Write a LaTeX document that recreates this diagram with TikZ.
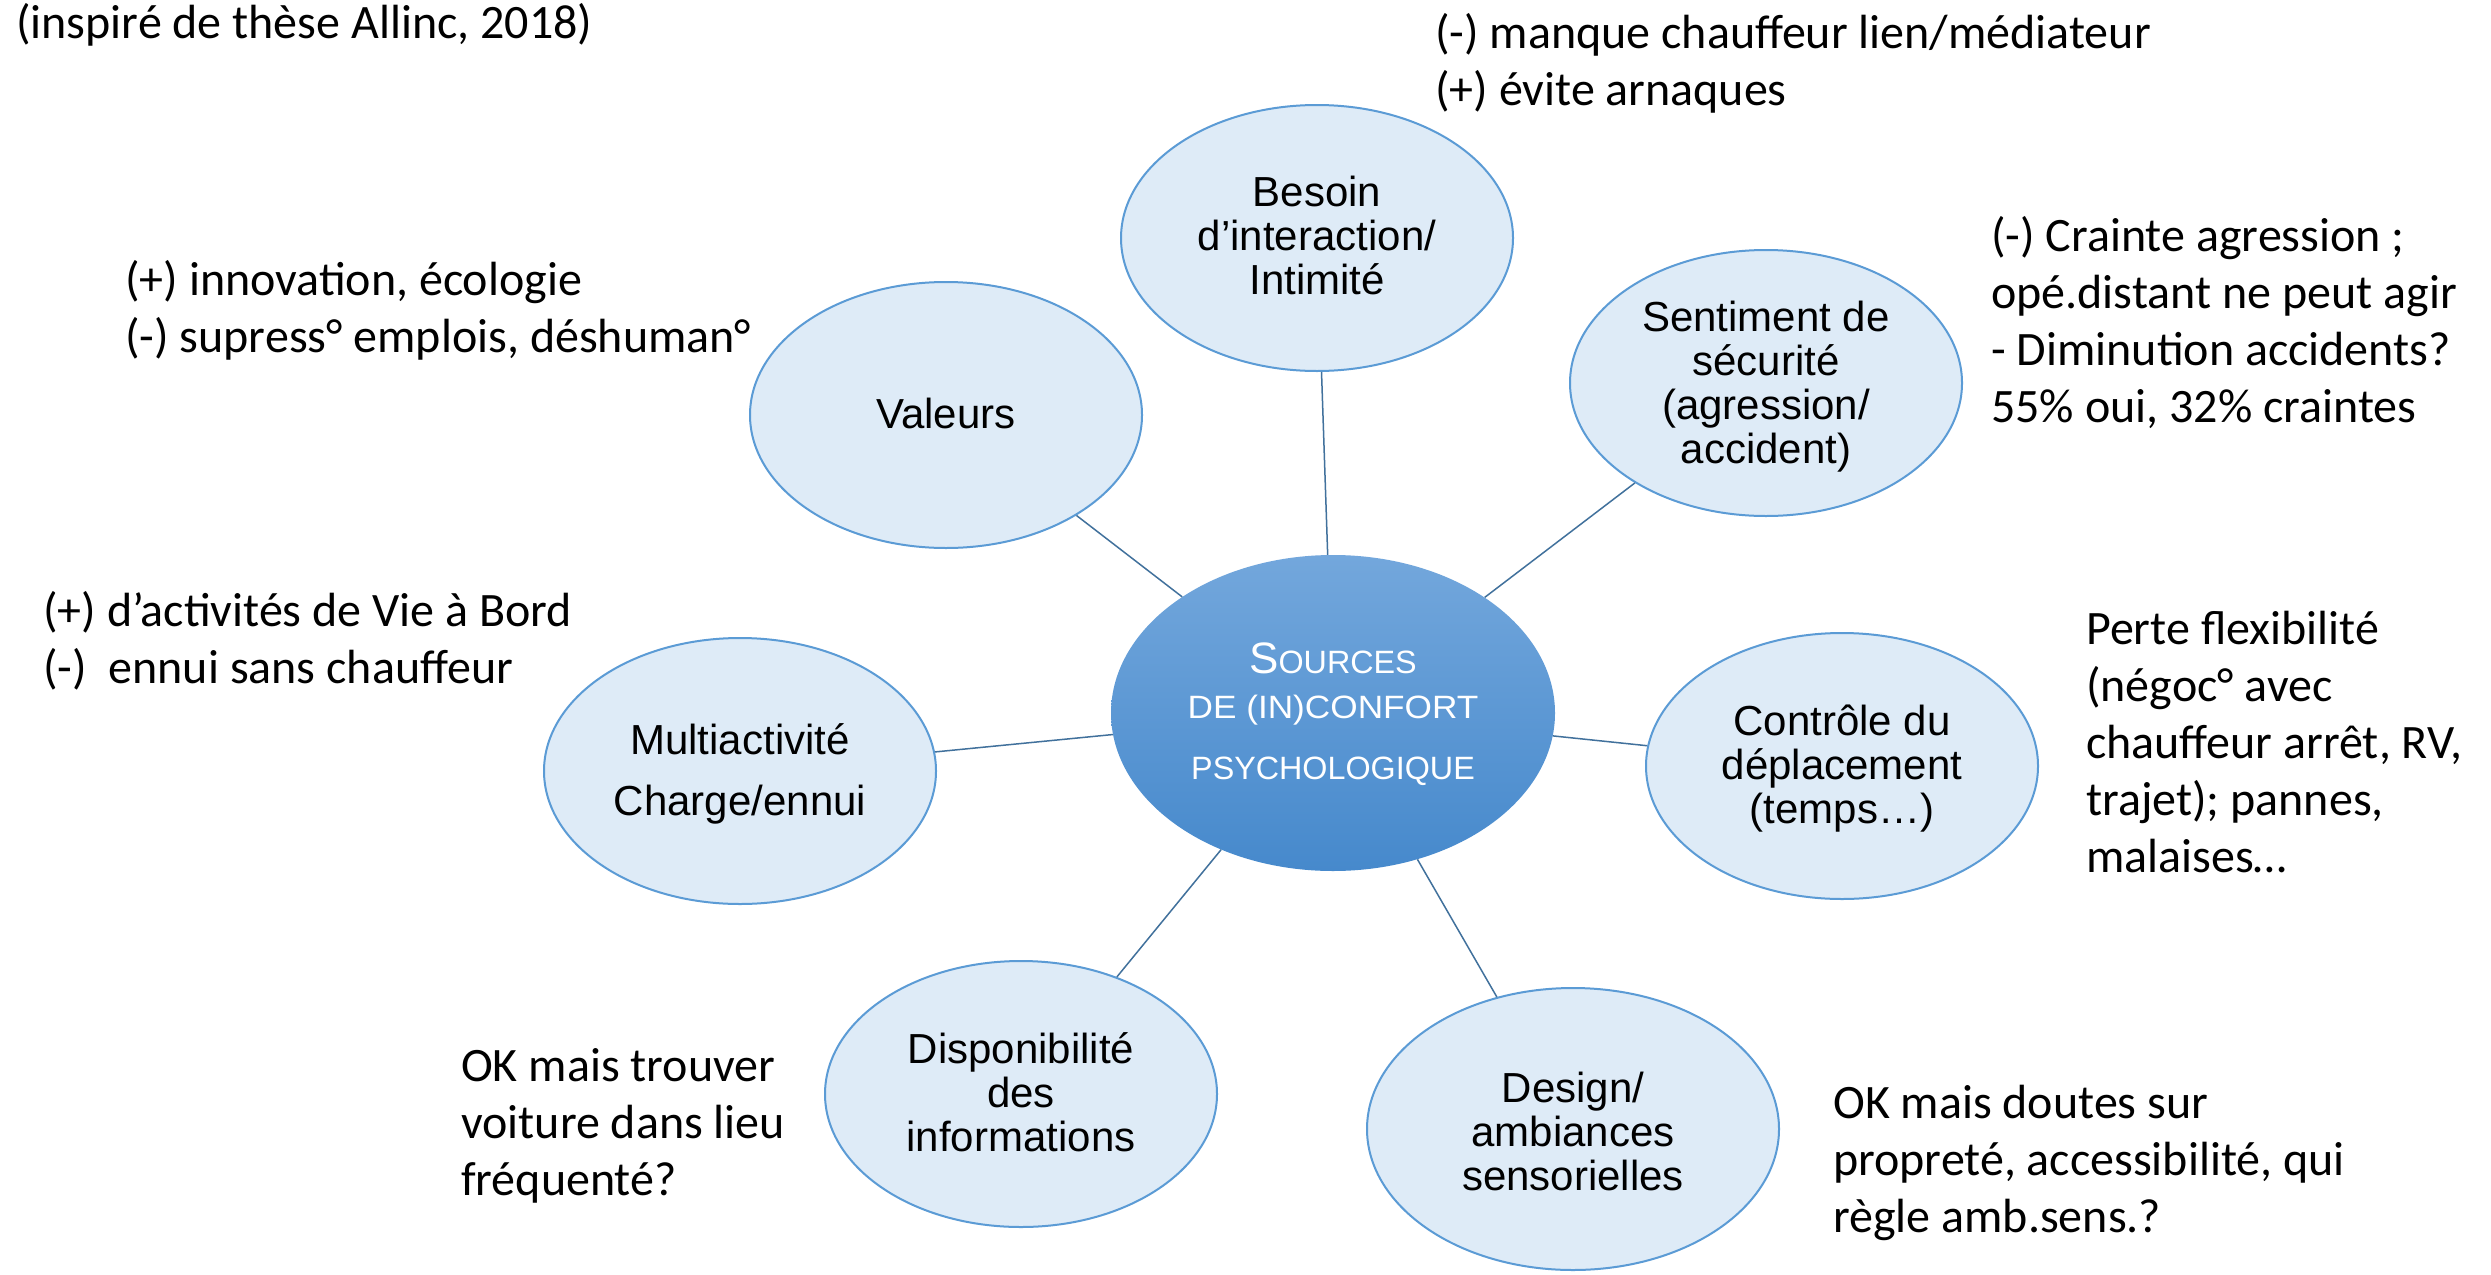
\documentclass[tikz,border=0pt]{standalone}
\usepackage{fontspec}
\usepackage{graphicx}
\setmainfont{Carlito}
\newfontfamily\arialf{Liberation Sans}
\usetikzlibrary{shapes.geometric}
\definecolor{ellfill}{RGB}{222,235,247}
\definecolor{elldraw}{RGB}{91,155,213}
\definecolor{linkc}{RGB}{65,113,156}
\definecolor{ctop}{RGB}{115,167,220}
\definecolor{cbot}{RGB}{70,137,204}
\newcommand\clines[1]{\vtop{\halign{\hfil##\hfil\cr#1\crcr}}}
\newcommand\llines[1]{\vtop{\halign{##\hfil\cr#1\crcr}}}
\begin{document}
\begin{tikzpicture}[x=1pt,y=-1pt,
  sat/.style={ellipse, draw=elldraw, line width=2pt, fill=ellfill, inner sep=0pt,
    minimum width=392pt, minimum height=266pt},
  hub/.style={ellipse, inner sep=0pt, minimum width=444pt, minimum height=316pt,
    top color=ctop, bottom color=cbot, draw=none},
  lab/.style={anchor=base, inner sep=0pt, font=\arialf\fontsize{42}{44}\selectfont},
  hublab/.style={anchor=base, inner sep=0pt, text=white, font=\arialf\fontsize{32.3}{45}\selectfont},
  link/.style={draw=linkc, line width=1.5pt},
  anno/.style={anchor=base west, inner sep=0pt, font=\fontsize{48}{57}\selectfont}]
\fill[white] (0,0) rectangle (2491,1274);
\useasboundingbox (0,0) rectangle (2491,1274);

% ellipses
\node[hub] (hub) at (1333,713) {};
\node[sat] (val) at (946,415) {};
\node[sat] (bes) at (1317,238) {};
\node[sat] (sec) at (1766,383) {};
\node[sat] (mul) at (740,771) {};
\node[sat] (ctl) at (1842,766) {};
\node[sat] (dis) at (1021,1094) {};
\node[sat, minimum width=412pt, minimum height=282pt] (des) at (1573,1129) {};

% connectors
\foreach \s in {val,bes,sec,mul,ctl,dis,des} \draw[link] (hub) -- (\s);

% texts in ellipses
\node[hublab] (hub-t) at (1333,673) {\clines{{\fontsize{44}{45}\selectfont S}OURCES\cr
  \scalebox{1.09}[1]{DE (IN)CONFORT}\cr\noalign{\vskip16pt}PSYCHOLOGIQUE}};
\node[lab] (val-t) at (946,428) {Valeurs};
\node[lab] (bes-t) at (1317,206) {\clines{Besoin\cr d’interaction/\cr Intimité}};
\node[lab] (sec-t) at (1766,331) {\clines{Sentiment de\cr sécurité\cr (agression/\cr accident)}};
\node[lab] (mul-t) at (740,754) {\clines{Multiactivité\cr\noalign{\vskip17pt}Charge/ennui}};
\node[lab] (ctl-t) at (1842,735) {\clines{Contrôle du\cr déplacement\cr (temps…)}};
\node[lab] (dis-t) at (1021,1063) {\clines{Disponibilité\cr des\cr informations}};
\node[lab] (des-t) at (1573,1102) {\clines{Design/\cr ambiances\cr sensorielles}};

% annotations
\node[anno] (n0) at (16,38) {(inspiré de thèse Allinc, 2018)};
\node[anno] (n1) at (1435,48) {\llines{(-) manque chauffeur lien/médiateur\cr (+) évite arnaques}};
\node[anno] (n2) at (1991,251) {\llines{(-) Crainte agression ;\cr opé.distant ne peut agir\cr - Diminution accidents?\cr 55\% oui, 32\% craintes}};
\node[anno] (n3) at (125,295) {\llines{(+) innovation, écologie\cr (-) supress° emplois, déshuman°}};
\node[anno] (n4) at (43,626) {\llines{(+) d’activités de Vie à Bord\cr (-)\ \ ennui sans chauffeur}};
\node[anno] (n5) at (2086,644) {\llines{Perte flexibilité\cr (négoc° avec\cr chauffeur arrêt, RV,\cr trajet); pannes,\cr malaises…}};
\node[anno] (n6) at (461,1081) {\llines{OK mais trouver\cr voiture dans lieu\cr fréquenté?}};
\node[anno] (n7) at (1833,1118) {\llines{OK mais doutes sur\cr propreté, accessibilité, qui\cr règle amb.sens.?}};
\end{tikzpicture}
\end{document}
